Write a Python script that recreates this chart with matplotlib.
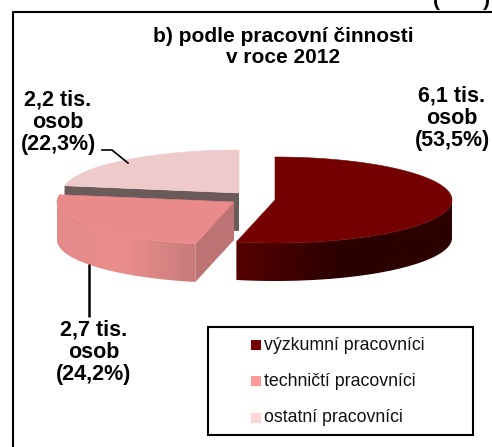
"""Czech 3D pie chart: research staff by type of work, 2012."""

import matplotlib

matplotlib.use("Agg")
import matplotlib.pyplot as plt
import numpy as np
from matplotlib.colors import LinearSegmentedColormap
from matplotlib.patches import Polygon, Rectangle

plt.rcParams["font.family"] = ["Liberation Sans", "DejaVu Sans"]

categories = ["výzkumní pracovníci", "techničtí pracovníci", "ostatní pracovníci"]
shares = [53.5, 24.2, 22.3]
value_labels = ["6,1 tis.\nosob\n(53,5%)", "2,7 tis.\nosob\n(24,2%)", "2,2 tis.\nosob\n(22,3%)"]
title = "b) podle pracovní činnosti\nv roce 2012"

legend_colors = ["#7a0000", "#ff9999", "#ffd5d5"]
top_colors = ["#750000", "#ea8a8a", "#eecaca"]
wall_ramps = [
    [(0, "#560000"), (0.45, "#2e0000"), (1, "#2c0000")],
    [(0, "#e48a8a"), (0.5, "#ea8d8d"), (1, "#c87a7a")],
]
cut_colors = ["#560000", "#bb7373", "#6b5a5a"]
centers = [(275, 200), (234, 202), (239, 193)]
draw_order = [3, 2, 1]  # higher sits in front
RX, RY, DEPTH = 177, 43, 38


def rim(cx, cy, a0, a1, n=160):
    t = np.radians(np.linspace(a0, a1, n))
    return cx + RX * np.sin(t), cy - RY * np.cos(t)


fig = plt.figure(figsize=(4.92, 4.47), dpi=100)
ax = fig.add_axes([0, 0, 1, 1])

stops = np.cumsum([0] + shares) * 3.6
for i in [2, 1, 0]:
    cx, cy = centers[i]
    a0, a1 = stops[i], stops[i + 1]
    xs, ys = rim(cx, cy, a0, a1)
    base = draw_order[i] * 10

    # inner cut face
    if i == 2:
        ax.add_patch(Polygon([(xs[0], ys[0]), (cx, cy), (cx, cy + DEPTH), (xs[0], ys[0] + DEPTH)],
                             color=cut_colors[i], lw=0, zorder=base))
    if i == 1:
        ax.add_patch(Polygon([(cx, cy), (xs[0], ys[0]), (xs[0], ys[0] + DEPTH), (cx, cy + DEPTH)],
                             color=cut_colors[i], lw=0, zorder=base))

    # curved wall, only the part facing the viewer, gradient clipped to it
    vis = np.cos(np.radians(np.linspace(a0, a1, 160))) <= 0
    if i != 2:
        vx, vy = xs[vis], ys[vis]
        wall = Polygon(list(zip(vx, vy)) + list(zip(vx[::-1], vy[::-1] + DEPTH)), facecolor="none", lw=0)
        ax.add_patch(wall)
        cmap = LinearSegmentedColormap.from_list(f"wall{i}", wall_ramps[i])
        grad = np.linspace(0, 1, 256).reshape(1, -1)
        im = ax.imshow(grad, cmap=cmap, extent=[vx.min(), vx.max(), vy.max() + DEPTH, vy.min()],
                       aspect="auto", interpolation="bilinear", zorder=base + 1)
        im.set_clip_path(wall)

    ax.add_patch(Polygon(list(zip(xs, ys)) + [(cx, cy)], facecolor=top_colors[i], edgecolor=top_colors[i],
                         lw=0.4, zorder=base + 2))

ax.set_xlim(0, 492)
ax.set_ylim(447, 0)
ax.axis("off")

# outer frame
ax.plot([13, 13, 492], [447, 12, 12], color="black", lw=1.5, solid_capstyle="butt", zorder=50)

# leader lines
ax.plot([128, 112, 102], [163, 150, 150], color="black", lw=1.2, zorder=50)
ax.plot([89, 89], [264, 317], color="black", lw=1.8, solid_capstyle="butt", zorder=50)

# brackets of the heading above the frame, the rest is cut off by the crop
ax.text(436, 1, "(", ha="center", va="center", fontsize=15, fontweight="bold", zorder=50)
ax.text(486, 1, ")", ha="center", va="center", fontsize=15, fontweight="bold", zorder=50)

ax.text(283, 47, title, ha="center", va="center", fontsize=15, fontweight="bold", linespacing=1.08, zorder=50)
label_pos = [(452, 118), (94, 352), (58, 122)]
for (x, y), text in zip(label_pos, value_labels):
    ax.text(x, y, text, ha="center", va="center", fontsize=15.5, fontweight="bold", linespacing=1.08, zorder=50)

# legend box
ax.add_patch(Rectangle((208, 327), 265, 108, facecolor="white", edgecolor="black", lw=1.5, zorder=50))
legend_y = [345, 381, 418]
for name, color, y in zip(categories, legend_colors, legend_y):
    ax.add_patch(Rectangle((251, y - 5), 10, 10, facecolor=color, edgecolor="none", zorder=51))
    ax.text(264, y, name, ha="left", va="center", fontsize=12.8, color="#111111", zorder=51)

fig.savefig("out.png", dpi=100)
